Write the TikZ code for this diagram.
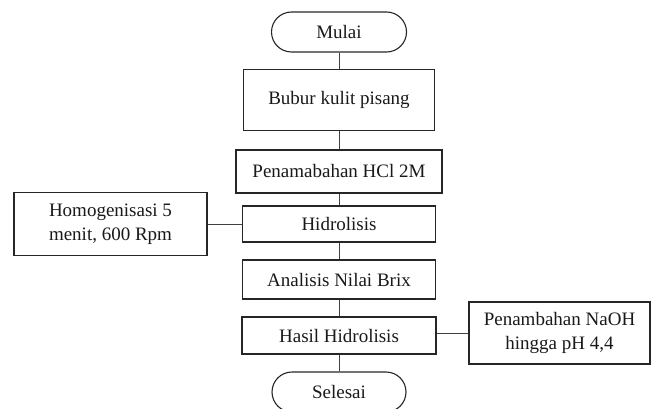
\documentclass[tikz,border=0pt]{standalone}
\usepackage{fontspec}
\setmainfont{Liberation Serif}
\begin{document}
\begin{tikzpicture}[x=1pt,y=1pt,
  box/.style={draw=black!85, line width=1.1pt, rectangle, inner sep=0pt, align=center, font=\fontsize{19}{24}\selectfont, text=black!90},
  term/.style={box, rounded corners=20pt},
  conn/.style={draw=black!75, line width=1pt}]
\useasboundingbox (0,0) rectangle (651,408);
\node[term, minimum width=135pt, minimum height=40pt] (mulai) at (339,376) {Mulai};
\node[box, minimum width=191pt, minimum height=61pt] (bubur) at (339,308) {Bubur kulit pisang};
\node[box, minimum width=206pt, minimum height=43pt] (hcl) at (339,236.5) {Penamabahan HCl 2M};
\node[box, minimum width=193pt, minimum height=36pt] (hidro) at (339,184) {Hidrolisis};
\node[box, minimum width=193pt, minimum height=63pt] (homog) at (110.5,184) {Homogenisasi 5\\menit, 600 Rpm};
\node[box, minimum width=193pt, minimum height=39pt] (brix) at (339,128.5) {Analisis Nilai Brix};
\node[box, minimum width=194pt, minimum height=37pt] (hasil) at (339,72.5) {Hasil Hidrolisis};
\node[term, minimum width=134pt, minimum height=40pt] (selesai) at (339,16) {Selesai};
\node[box, minimum width=181pt, minimum height=62pt] (naoh) at (559.5,75) {Penambahan NaOH\\hingga pH 4,4};
\draw[conn] (mulai.south) -- (bubur.north);
\draw[conn] (bubur.south) -- (hcl.north);
\draw[conn] (hcl.south) -- (hidro.north);
\draw[conn] (hidro.south) -- (brix.north);
\draw[conn] (brix.south) -- (hasil.north);
\draw[conn] (hasil.south) -- (selesai.north);
\draw[conn] (homog.east) -- (hidro.west);
\draw[conn] (naoh.west -| hasil.east) -- (naoh.west);
\end{tikzpicture}
\end{document}
